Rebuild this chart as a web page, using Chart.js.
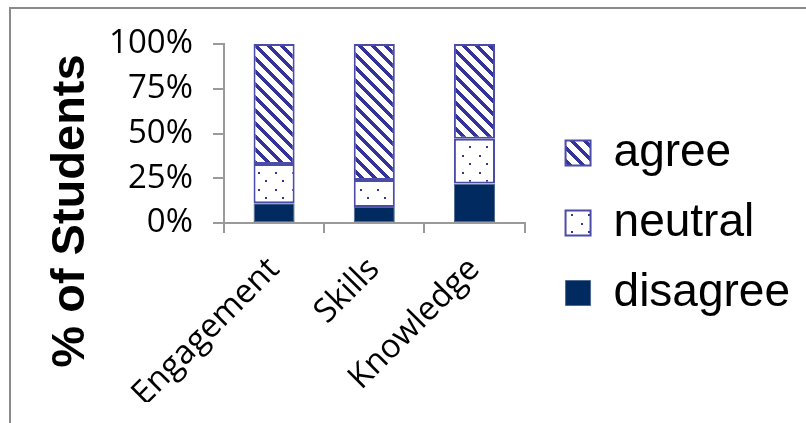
<!DOCTYPE html>
<html>
<head>
<meta charset="utf-8">
<script src="https://cdn.jsdelivr.net/npm/chart.js@4/dist/chart.umd.min.js"></script>
<style>
  body { margin: 0; background: #fff; overflow: hidden; }
  #wrap { position: relative; width: 806px; height: 423px; }
  #frame { position: absolute; left: 9px; top: 7px; width: 900px; height: 500px;
           border-top: 2px solid #8a8a8a; border-left: 2px solid #8a8a8a; }
  #chart { position: absolute; left: 0; top: 0; }
</style>
</head>
<body>
<div id="wrap">
  <div id="frame"></div>
  <canvas id="chart" width="806" height="423"></canvas>
</div>
<script>
// data (percent of students)
const categories = ['Engagement', 'Skills', 'Knowledge'];
const disagree = [11, 9, 22];
const neutral = [22, 15, 25];
const agree = [67, 76, 53];
const yTicks = [0, 25, 50, 75, 100];

const BLUE = '#333399';
const NAVY = '#002a60';

// wide downward diagonal fill
function stripePattern() {
    const t = document.createElement('canvas');
    const size = 13;
    t.width = size; t.height = size;
    const c = t.getContext('2d');
    c.fillStyle = '#fff';
    c.fillRect(0, 0, size, size);
    c.fillStyle = BLUE;
    for (let y = 0; y < size; y++) {
        for (let k = 0; k < 5; k++) {
            c.fillRect((y + k) % size, y, 1, 1);
        }
    }
    return c.createPattern(t, 'repeat');
}

// sparse dots fill
function dotPattern() {
    const t = document.createElement('canvas');
    t.width = 17; t.height = 17;
    const c = t.getContext('2d');
    c.fillStyle = '#fff';
    c.fillRect(0, 0, 17, 17);
    c.fillStyle = BLUE;
    c.fillRect(3, 2, 2, 2);
    c.fillRect(10, 10, 2, 2);
    return c.createPattern(t, 'repeat');
}

// y title is drawn by hand so it can sit centred on the whole figure
const yTitle = {
    id: 'yTitle',
    afterDraw(chart) {
        const ctx = chart.ctx;
        ctx.save();
        ctx.translate(71, 211);
        ctx.rotate(-Math.PI / 2);
        ctx.font = 'bold 47px "Liberation Sans", Arial, sans-serif';
        ctx.fillStyle = '#000';
        ctx.textAlign = 'center';
        ctx.textBaseline = 'middle';
        ctx.fillText('% of Students', 0, 0);
        ctx.restore();
    }
};

const axisColor = '#9a9a9a';
const tickFont = { family: '"Open Sans", sans-serif', size: 33 };

new Chart(document.getElementById('chart'), {
    type: 'bar',
    data: {
        labels: categories,
        datasets: [
            { label: 'disagree', data: disagree, backgroundColor: NAVY, borderColor: '#4f6a8f', borderWidth: 1 },
            { label: 'neutral', data: neutral, backgroundColor: dotPattern(), borderColor: '#4b4ba8', borderWidth: 2 },
            { label: 'agree', data: agree, backgroundColor: stripePattern(), borderColor: '#4b4ba8', borderWidth: 2 },
        ],
    },
    options: {
        responsive: false,
        animation: false,
        datasets: { bar: { barPercentage: 0.41, categoryPercentage: 1, borderSkipped: false } },
        layout: { padding: { top: 44, left: 0, right: 6, bottom: 21 } },
        plugins: {
            tooltip: { enabled: false },
            legend: {
                position: 'right',
                reverse: true,
                maxWidth: 270,
                labels: {
                    boxWidth: 25,
                    boxHeight: 25,
                    padding: 24,
                    color: '#000',
                    font: { family: '"Liberation Sans", Arial, sans-serif', size: 46 },
                },
            },
        },
        scales: {
            x: {
                stacked: true,
                grid: { drawOnChartArea: false, tickLength: 10, color: axisColor, lineWidth: 2 },
                border: { color: axisColor, width: 2 },
                ticks: { color: '#000', font: tickFont, minRotation: 45, maxRotation: 45, padding: 17 },
                afterFit: (s) => { s.height = 179; },
            },
            y: {
                stacked: true,
                min: 0,
                max: 100,
                afterBuildTicks: (s) => { s.ticks = yTicks.map(v => ({ value: v })); },
                grid: { drawOnChartArea: false, tickLength: 11, color: axisColor, lineWidth: 2 },
                border: { color: axisColor, width: 2 },
                ticks: { color: '#000', font: tickFont, padding: 20, callback: v => v + '%' },
                afterFit: (s) => { s.width = 224; },
            },
            // empty spacer between the plot and the legend
            gap: {
                position: 'right',
                display: true,
                grid: { display: false },
                border: { display: false },
                ticks: { display: false },
                afterFit: (s) => { s.width = 17; },
            },
        },
    },
    plugins: [yTitle],
});
</script>
</body>
</html>
